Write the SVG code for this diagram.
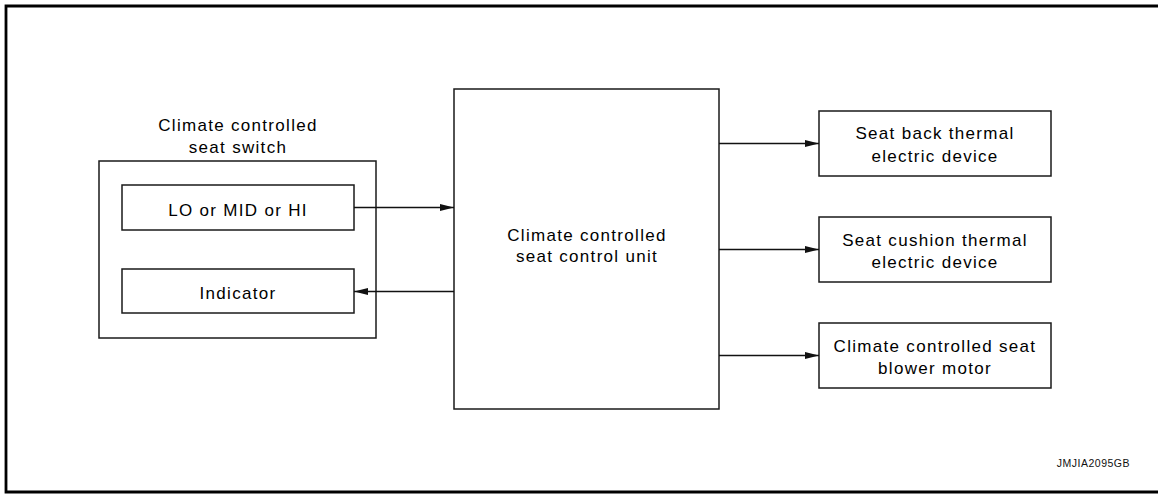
<svg xmlns="http://www.w3.org/2000/svg" width="1161" height="494" viewBox="0 0 1161 494">
<style>
.box{fill:#fff;stroke:#1a1a1a;stroke-width:1.5}
.t{font-family:"Liberation Sans",Arial,sans-serif;font-size:17px;letter-spacing:1.3px;fill:#000;text-anchor:middle}
.c{stroke:#111;stroke-width:1.3;fill:none;marker-end:url(#ah)}
.frame{stroke:#000;stroke-width:2.8;fill:none}
.code{font-family:"Liberation Sans",Arial,sans-serif;font-size:10.5px;letter-spacing:0.5px;fill:#111;text-anchor:end}
</style>
<defs>
<marker id="ah" markerWidth="15" markerHeight="8" refX="14" refY="3.5" orient="auto" markerUnits="userSpaceOnUse">
<path d="M0,0 L14,3.5 L0,7 Z" fill="#111"/>
</marker>
</defs>
<rect width="1161" height="494" fill="#fff"/>
<path class="frame" d="M1158,6 H6 V492 H1158"/>
<g id="switch">
<text class="t" x="238" y="131">Climate controlled</text>
<text class="t" x="238" y="153">seat switch</text>
<rect class="box" x="99" y="161" width="277" height="177"/>
</g>
<g id="lomidhi">
<rect class="box" x="122" y="185" width="232" height="45"/>
<text class="t" x="238" y="216">LO or MID or HI</text>
</g>
<g id="indicator">
<rect class="box" x="122" y="269" width="232" height="44"/>
<text class="t" x="238" y="299">Indicator</text>
</g>
<g id="control-unit">
<rect class="box" x="454" y="89" width="265" height="320"/>
<text class="t" x="587" y="241">Climate controlled</text>
<text class="t" x="587" y="262">seat control unit</text>
</g>
<g id="seat-back">
<rect class="box" x="819" y="111" width="232" height="65"/>
<text class="t" x="935" y="139">Seat back thermal</text>
<text class="t" x="935" y="162">electric device</text>
</g>
<g id="seat-cushion">
<rect class="box" x="819" y="217" width="232" height="65"/>
<text class="t" x="935" y="246">Seat cushion thermal</text>
<text class="t" x="935" y="268">electric device</text>
</g>
<g id="blower">
<rect class="box" x="819" y="323" width="232" height="65"/>
<text class="t" x="935" y="352">Climate controlled seat</text>
<text class="t" x="935" y="374">blower motor</text>
</g>
<g id="connectors">
<line class="c" x1="354" y1="207.5" x2="454" y2="207.5"/>
<line class="c" x1="454" y1="291.5" x2="354" y2="291.5"/>
<line class="c" x1="719" y1="143.5" x2="819" y2="143.5"/>
<line class="c" x1="719" y1="249.5" x2="819" y2="249.5"/>
<line class="c" x1="719" y1="355.5" x2="819" y2="355.5"/>
</g>
<text class="code" x="1130" y="467">JMJIA2095GB</text>
</svg>
